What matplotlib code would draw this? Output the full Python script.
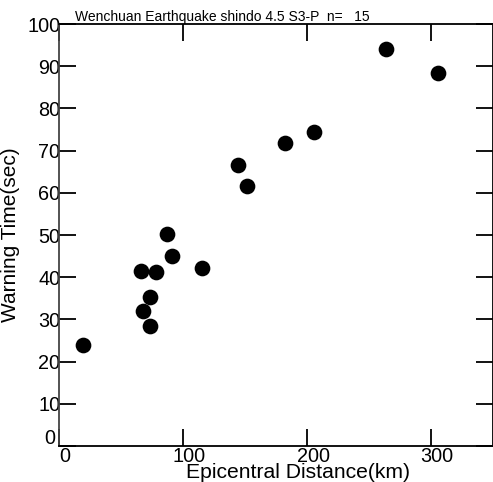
import matplotlib
matplotlib.use("Agg")
import matplotlib.pyplot as plt
import matplotlib.transforms as mtransforms

plt.rcParams['font.family'] = ['Liberation Sans', 'DejaVu Sans']

distance_km = [19.4, 66, 78, 68, 73, 73, 87, 91, 115, 144, 152, 182, 206, 264, 306]
warning_sec = [23.9, 41.4, 41.2, 32.0, 35.4, 28.4, 50.2, 45.1, 42.2, 66.7, 61.5, 71.9, 74.3, 94.0, 88.3]
x_ticks = [0, 100, 200, 300]
y_ticks = [0, 10, 20, 30, 40, 50, 60, 70, 80, 90, 100]
title = "Wenchuan Earthquake shindo 4.5 S3-P  n=   15"

W, H = 493, 482
fig = plt.figure(figsize=(W / 100, H / 100), dpi=100)
ax = fig.add_axes([59 / W, 1 - 446 / H, (493 - 59) / W, (446 - 24) / H])

ax.plot(distance_km, warning_sec, 'o', color='black', markersize=11.3, markeredgewidth=0)

ax.set_xlim(0, 350)
ax.set_ylim(0, 100)
ax.set_xticks(x_ticks)
ax.set_yticks(y_ticks)
ax.tick_params(direction='in', length=12, width=1.3, top=True, right=True,
               labelsize=14.3, colors='black')
ax.tick_params(axis='y', pad=-1)
ax.tick_params(axis='x', pad=1)
for s in ax.spines.values():
    s.set_linewidth(1.3)
ax.spines['left'].set_color('#444444')

offset = mtransforms.ScaledTranslation(6 / 100, 0, fig.dpi_scale_trans)
for lab in ax.get_xticklabels():
    lab.set_transform(lab.get_transform() + offset)
ylabs = ax.get_yticklabels()
ylabs[0].set_transform(ylabs[0].get_transform() + mtransforms.ScaledTranslation(-5 / 100, 9 / 100, fig.dpi_scale_trans))

ax.set_xlabel("Epicentral Distance(km)", fontsize=15.2)
ax.xaxis.label.set_va('top')
ax.xaxis.set_label_coords((298 - 59) / (493 - 59), 0.0)
ax.xaxis.label.set_transform(ax.transAxes + mtransforms.ScaledTranslation(0, -17 / 100, fig.dpi_scale_trans))
ax.set_ylabel("Warning Time(sec)", fontsize=15)
ax.yaxis.set_label_coords(-(59 - 20) / (493 - 59), 0.5)

fig.text(75 / W, 1 - 21 / H, title, fontsize=10, va='baseline', ha='left')

fig.savefig("out.png", dpi=100)
